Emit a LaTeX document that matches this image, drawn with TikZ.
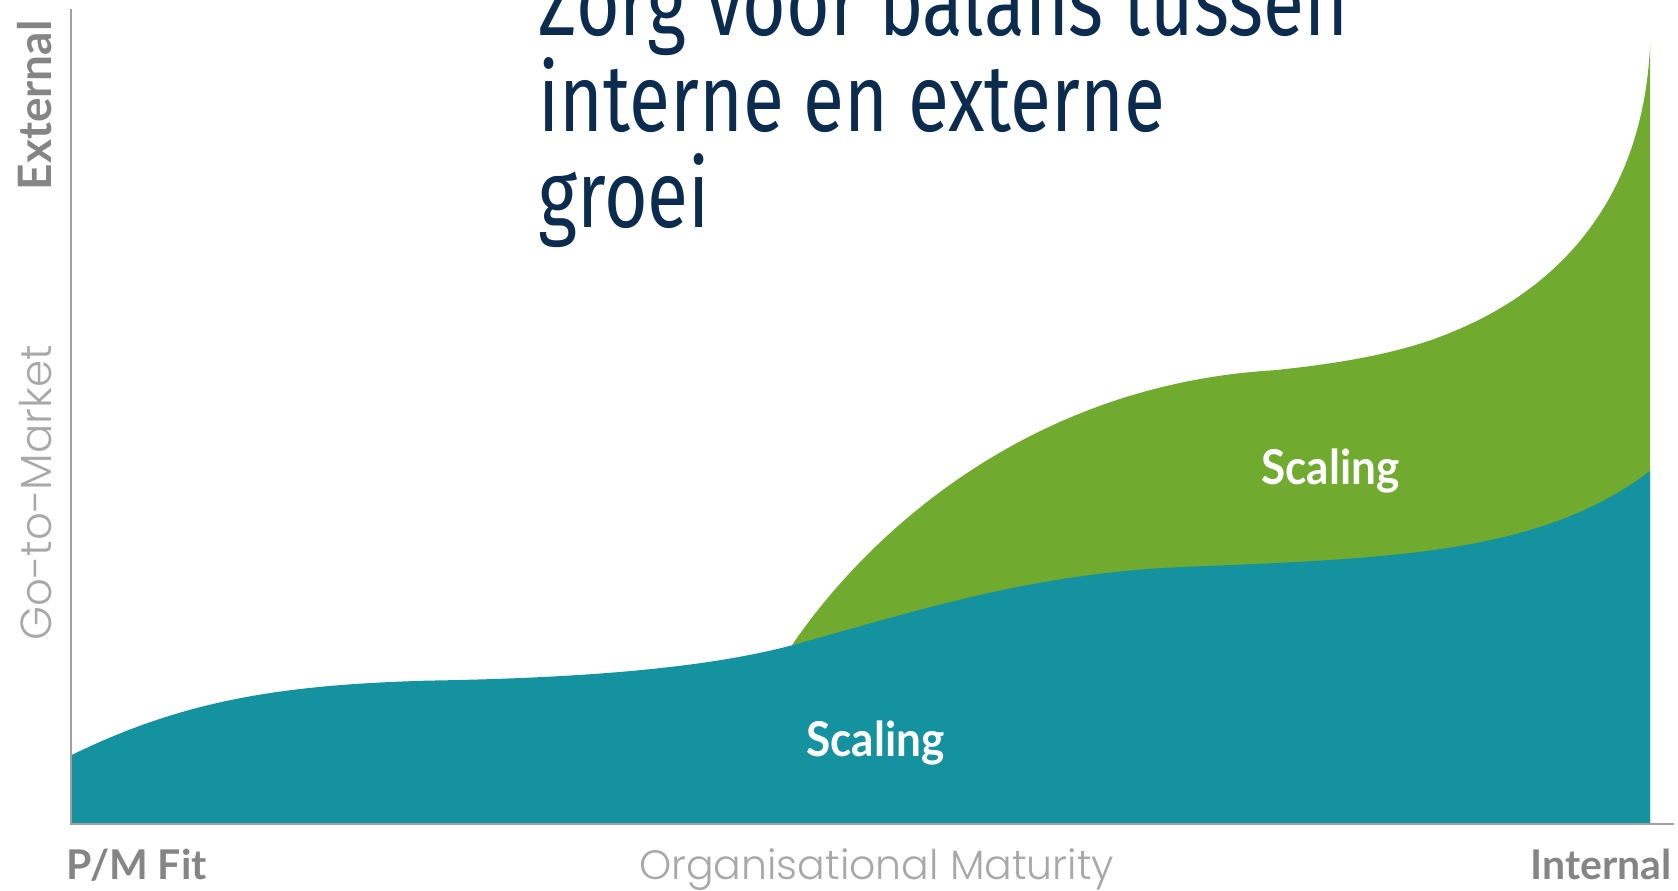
\documentclass[tikz,border=0pt]{standalone}
\usepackage{fontspec}
\newfontfamily\titlef{Fira Sans}[FakeStretch=0.79]
\newfontfamily\labf{Lato}
\newfontfamily\labnarrow{Lato}[FakeStretch=0.92]
\newfontfamily\thinf{Poppins Light}
\definecolor{tealc}{HTML}{15929F}
\definecolor{greenc}{HTML}{70AA2F}
\definecolor{navyc}{HTML}{0B2C4E}
\definecolor{boldgray}{HTML}{858585}
\definecolor{lightgray}{HTML}{A8A8A8}
\definecolor{axisgray}{HTML}{A0A0A0}
\tikzset{
  titletext/.style={inner sep=0pt, anchor=base west, text=navyc, font=\titlef\fontsize{94.8}{95}\selectfont},
  boldlab/.style={inner sep=0pt, text=boldgray, font=\labf\bfseries\fontsize{41}{41}\selectfont},
  thinlab/.style={inner sep=0pt, text=lightgray, font=\thinf\fontsize{41}{41}\selectfont},
  arealab/.style={inner sep=0pt, anchor=base, text=white, font=\labnarrow\bfseries\fontsize{48}{48}\selectfont},
  axisline/.style={draw=axisgray, line width=2pt}
}
\begin{document}
\begin{tikzpicture}[x=1.0702pt,y=-1.0702pt]
\useasboundingbox (0,0) rectangle (1568,832);
% green area
\fill[greenc] (740,603) .. controls (810,500) and (960,360) .. (1190,346)
  .. controls (1250,340) and (1310,330) .. (1355,311)
  .. controls (1430,281) and (1535,210) .. (1542,40)
  -- (1542,770) -- (740,770) -- cycle;
% teal area
\fill[tealc] (66,706) .. controls (170,655) and (260,640) .. (400,636)
  .. controls (520,634) and (650,627) .. (740,603)
  .. controls (860,570) and (960,537) .. (1100,530)
  .. controls (1300,522) and (1440,518) .. (1542,440)
  -- (1542,770) -- (66,770) -- cycle;
% axes
\coordinate (ytop) at (66,8);
\coordinate (origin) at (66,770);
\coordinate (xend) at (1564,770);
\draw[axisline] (ytop) -- (origin) -- (xend);
% title
\node[titletext] (t1) at (503,33.6) {Zorg voor balans tussen};
\node[titletext] (t2) at (503,123) {interne en externe};
\node[titletext] (t3) at (503,213) {groei};
% area labels
\node[arealab] (s1) at (818,707) {Scaling};
\node[arealab] (s2) at (1243,453) {Scaling};
% axis labels
\node[boldlab, anchor=base west] (pm) at (62,822) {P/M Fit};
\node[thinlab, anchor=base west] (om) at (597,822) {Organisational Maturity};
\node[boldlab, anchor=base east] (int) at (1562,822) {Internal};
\node[boldlab, anchor=base west, rotate=90, font=\labf\bfseries\fontsize{46}{46}\selectfont] (ext) at (48,178) {External};
\node[thinlab, anchor=base west, rotate=90, font=\thinf\fontsize{43.5}{43.5}\selectfont] (gtm) at (48,599) {Go-to-Market};
\end{tikzpicture}
\end{document}
